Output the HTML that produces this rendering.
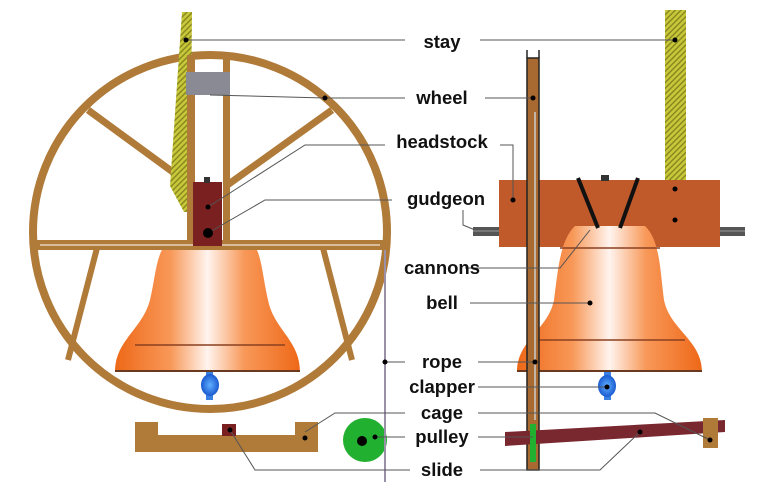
<!DOCTYPE html>
<html><head><meta charset="utf-8"><style>
html,body{margin:0;padding:0;background:#fff}
svg{display:block}
text{font-family:"Liberation Sans",Arial,sans-serif;font-weight:bold;font-size:18.5px;fill:#111}
</style></head><body>
<svg width="768" height="496" viewBox="0 0 768 496" xmlns="http://www.w3.org/2000/svg">
<defs>
<pattern id="hatch" width="4" height="4" patternUnits="userSpaceOnUse" patternTransform="rotate(45)">
<rect width="4" height="4" fill="#c8c83a"/><rect width="1.5" height="4" fill="#8a8a20"/></pattern>
<linearGradient id="bellg" x1="0" x2="1" y1="0" y2="0">
<stop offset="0" stop-color="#ee6818"/><stop offset="0.3" stop-color="#f89858"/><stop offset="0.5" stop-color="#fff4ee"/><stop offset="0.7" stop-color="#f89858"/><stop offset="1" stop-color="#ee6818"/></linearGradient>
<radialGradient id="blue"><stop offset="0" stop-color="#60b0ff"/><stop offset="1" stop-color="#1a5ad0"/></radialGradient>
</defs>
<circle cx="210" cy="232" r="177" fill="none" stroke="#b07a38" stroke-width="8"/>
<line x1="88" y1="110" x2="192" y2="186" stroke="#b07a38" stroke-width="7"/>
<line x1="332" y1="110" x2="226" y2="186" stroke="#b07a38" stroke-width="7"/>
<line x1="97" y1="248" x2="68" y2="360" stroke="#b07a38" stroke-width="6"/>
<line x1="323" y1="248" x2="352" y2="360" stroke="#b07a38" stroke-width="6"/>
<polygon points="182,12 192,12 190,212 184,212 170,186" fill="url(#hatch)"/>
<path d="M170,240 L250,240 C262,250 262,275 268,300 C274,330 300,340 300,372 L115,372 C115,340 142,330 150,300 C156,275 156,250 170,240 Z" fill="url(#bellg)"/>
<line x1="135" y1="345" x2="285" y2="345" stroke="#8a4020" stroke-width="1.5"/>
<line x1="115" y1="371" x2="300" y2="371" stroke="#6a3a20" stroke-width="2"/>
<rect x="206" y="372" width="7" height="28" fill="#3a80e0"/>
<ellipse cx="210" cy="385" rx="9" ry="11" fill="url(#blue)"/>
<rect x="187" y="55" width="8" height="195" fill="#b07a38"/>
<rect x="223" y="55" width="7" height="195" fill="#b07a38"/>
<polygon points="32,240 388,240 388,250 32,250" fill="#b07a38"/>
<line x1="40" y1="245" x2="380" y2="245" stroke="#fff" stroke-width="1"/>
<rect x="186" y="72" width="44" height="23" fill="#8a8a94"/>
<rect x="193" y="182" width="29" height="64" fill="#7a2020"/>
<rect x="204" y="177" width="6" height="6" fill="#333"/>
<path d="M135,422 L158,422 L158,435 L295,435 L295,422 L318,422 L318,452 L135,452 Z" fill="#b07a38"/>
<rect x="222" y="424" width="14" height="12" fill="#7a2020"/>
<circle cx="365" cy="440" r="22" fill="#22b030"/>
<circle cx="362" cy="441" r="5" fill="#000"/>
<line x1="385" y1="250" x2="385" y2="482" stroke="#9a90a8" stroke-width="2"/>
<rect x="665" y="10" width="21" height="172" fill="url(#hatch)"/>
<rect x="473" y="227" width="272" height="9" fill="#555"/>
<line x1="473" y1="231" x2="745" y2="231" stroke="#999" stroke-width="1"/>
<rect x="499" y="180" width="221" height="67" fill="#c05a2a"/>
<rect x="601" y="175" width="8" height="6" fill="#333"/>
<path d="M575,226 L645,226 C660,240 660,270 664,300 C670,330 702,340 702,372 L517,372 C517,340 548,330 554,300 C558,270 560,240 575,226 Z" fill="url(#bellg)"/>
<line x1="560" y1="248" x2="660" y2="248" stroke="#8a4020" stroke-width="1.5"/>
<line x1="535" y1="340" x2="685" y2="340" stroke="#8a4020" stroke-width="1.5"/>
<line x1="517" y1="371" x2="702" y2="371" stroke="#6a3a20" stroke-width="2"/>
<line x1="578" y1="178" x2="598" y2="228" stroke="#111" stroke-width="4"/>
<line x1="638" y1="178" x2="620" y2="228" stroke="#111" stroke-width="4"/>
<rect x="604" y="372" width="7" height="28" fill="#3a80e0"/>
<ellipse cx="607" cy="386" rx="9" ry="11" fill="url(#blue)"/>
<rect x="527" y="58" width="12" height="412" fill="#a86a30" stroke="#222" stroke-width="1.5"/>
<line x1="527" y1="50" x2="527" y2="58" stroke="#222" stroke-width="1.5"/>
<line x1="539" y1="50" x2="539" y2="58" stroke="#222" stroke-width="1.5"/>
<line x1="535" y1="112" x2="535" y2="420" stroke="#ccc" stroke-width="1.5"/>
<polygon points="505,432 725,420 725,432 505,446" fill="#7a2830"/>
<rect x="703" y="418" width="15" height="30" fill="#b07a38"/>
<rect x="530" y="424" width="6" height="38" fill="#22b030"/>
<g stroke="#555" stroke-width="1" fill="none">
<polyline points="186,40 405,40"/><polyline points="480,40 675,40"/>
<polyline points="210,95 325,98 405,98"/><polyline points="485,98 533,98"/>
<polyline points="208,207 305,145 385,145"/><polyline points="500,145 513,145 513,200"/>
<polyline points="208,233 265,200 392,200"/><polyline points="463,210 463,225 475,230"/>
<polyline points="465,268 560,268 590,230"/>
<polyline points="470,303 590,303"/>
<polyline points="385,362 405,362"/><polyline points="478,362 535,362"/>
<polyline points="478,387 607,387"/>
<polyline points="305,432 335,413 405,413"/><polyline points="478,413 655,413 710,440"/>
<polyline points="375,437 405,437"/><polyline points="478,437 533,437"/>
<polyline points="230,430 255,470 410,470"/><polyline points="480,470 600,470 640,432"/>
</g>
<g fill="#000">
<circle cx="186" cy="40" r="2.5"/><circle cx="675" cy="40" r="2.5"/>
<circle cx="325" cy="98" r="2.5"/><circle cx="533" cy="98" r="2.5"/>
<circle cx="208" cy="207" r="2.5"/><circle cx="208" cy="233" r="5"/>
<circle cx="513" cy="200" r="2.5"/><circle cx="675" cy="189" r="2.5"/><circle cx="675" cy="220" r="2.5"/>
<circle cx="590" cy="303" r="2.5"/><circle cx="385" cy="362" r="2.5"/><circle cx="535" cy="362" r="2.5"/>
<circle cx="607" cy="387" r="2.5"/><circle cx="305" cy="438" r="2.5"/><circle cx="710" cy="440" r="2.5"/>
<circle cx="375" cy="437" r="2.5"/><circle cx="230" cy="430" r="2.5"/><circle cx="640" cy="432" r="2.5"/>
</g>
<text x="442" y="48" text-anchor="middle">stay</text>
<text x="442" y="104" text-anchor="middle">wheel</text>
<text x="442" y="148" text-anchor="middle">headstock</text>
<text x="446" y="205" text-anchor="middle">gudgeon</text>
<text x="442" y="274" text-anchor="middle">cannons</text>
<text x="442" y="309" text-anchor="middle">bell</text>
<text x="442" y="368" text-anchor="middle">rope</text>
<text x="442" y="393" text-anchor="middle">clapper</text>
<text x="442" y="419" text-anchor="middle">cage</text>
<text x="442" y="443" text-anchor="middle">pulley</text>
<text x="442" y="476" text-anchor="middle">slide</text>
</svg>
</body></html>
